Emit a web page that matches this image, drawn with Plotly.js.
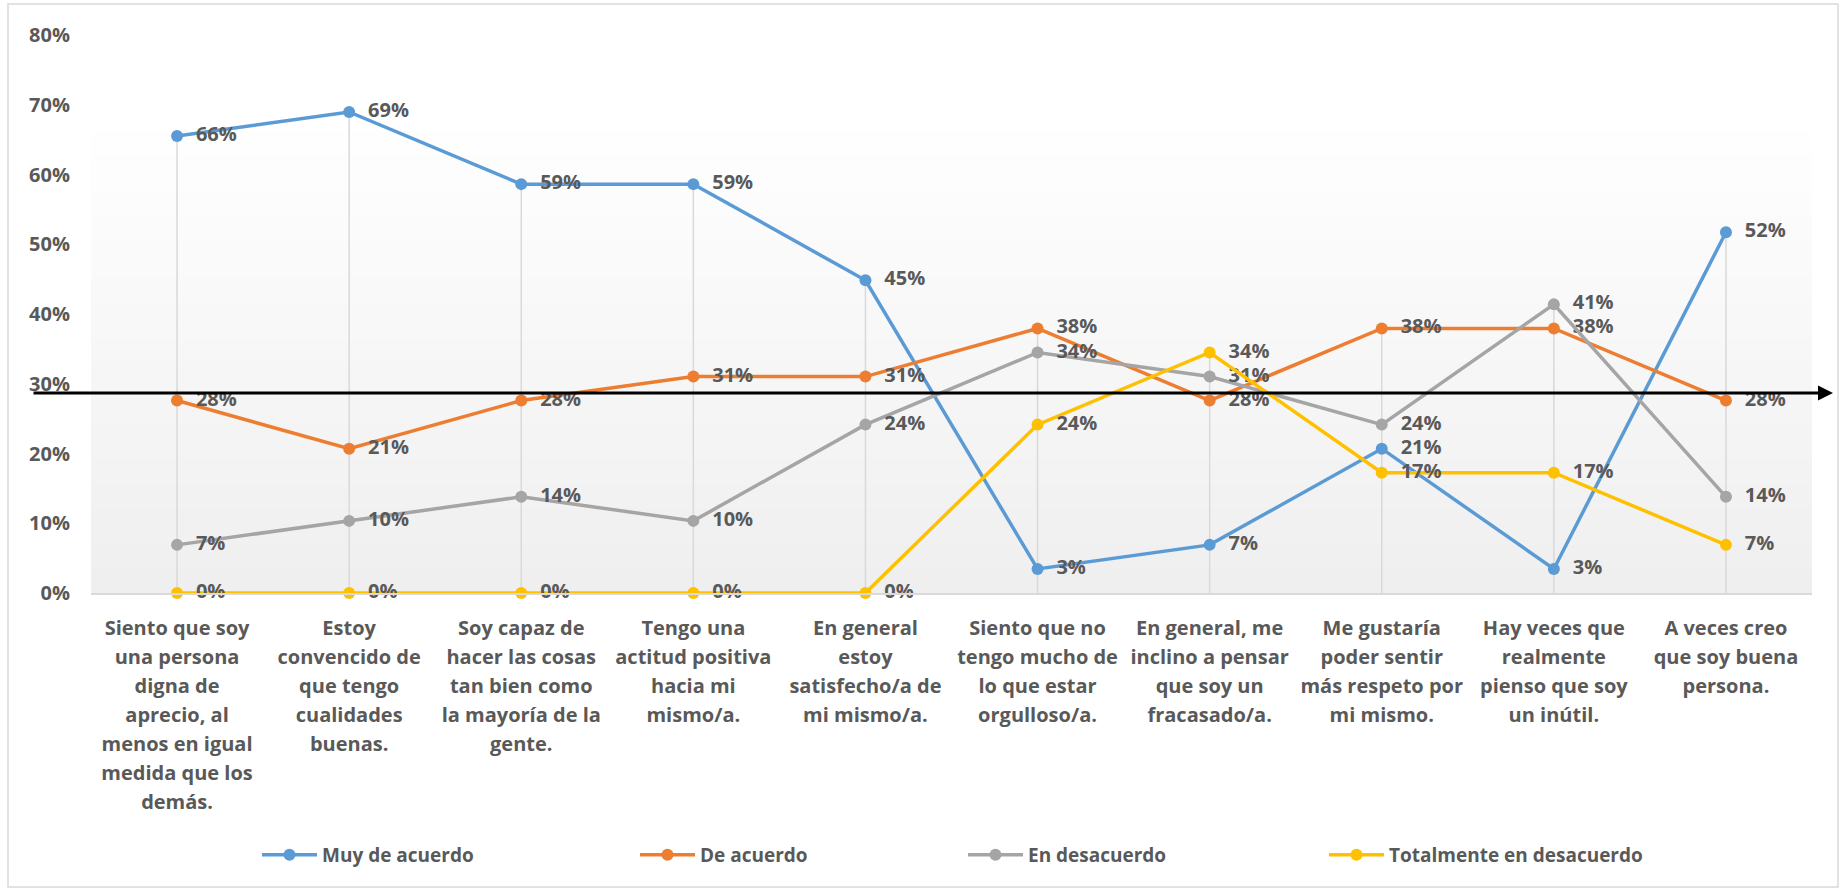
<!DOCTYPE html>
<html>
<head>
<meta charset="utf-8">
<script src="https://cdn.plot.ly/plotly-3.0.1.min.js"></script>
<style>html,body{margin:0;padding:0;background:#fff;}#chart{width:1843px;height:890px;}</style>
</head>
<body>
<div id="chart"></div>
<script>
// ---- data ----
const categories = [
  "Siento que soy<br>una persona<br>digna de<br>aprecio, al<br>menos en igual<br>medida que los<br>demás.",
  "Estoy<br>convencido de<br>que tengo<br>cualidades<br>buenas.",
  "Soy capaz de<br>hacer las cosas<br>tan bien como<br>la mayoría de la<br>gente.",
  "Tengo una<br>actitud positiva<br>hacia mi<br>mismo/a.",
  "En general<br>estoy<br>satisfecho/a de<br>mi mismo/a.",
  "Siento que no<br>tengo mucho de<br>lo que estar<br>orgulloso/a.",
  "En general, me<br>inclino a pensar<br>que soy un<br>fracasado/a.",
  "Me gustaría<br>poder sentir<br>más respeto por<br>mi mismo.",
  "Hay veces que<br>realmente<br>pienso que soy<br>un inútil.",
  "A veces creo<br>que soy buena<br>persona."
];
const seriesNames = ["Muy de acuerdo", "De acuerdo", "En desacuerdo", "Totalmente en desacuerdo"];
const muyDeAcuerdo = [0.6552, 0.6897, 0.5862, 0.5862, 0.4483, 0.0345, 0.0690, 0.2069, 0.0345, 0.5172];
const deAcuerdo = [0.2759, 0.2069, 0.2759, 0.3103, 0.3103, 0.3793, 0.2759, 0.3793, 0.3793, 0.2759];
const enDesacuerdo = [0.0690, 0.1034, 0.1379, 0.1034, 0.2414, 0.3448, 0.3103, 0.2414, 0.4138, 0.1379];
const totalmenteEnDesacuerdo = [0, 0, 0, 0, 0, 0.2414, 0.3448, 0.1724, 0.1724, 0.0690];
const yTickVals = [0, 0.1, 0.2, 0.3, 0.4, 0.5, 0.6, 0.7, 0.8];

// ---- styling ----
const colors = ["#5B9BD5", "#ED7D31", "#A5A5A5", "#FFC000"];
const textColor = "#595959";
const FONT = '"Open Sans", "DejaVu Sans", sans-serif';

const W = 1843, H = 890;
const M = {l: 91, r: 31, t: 35, b: 297};
const PW = W - M.l - M.r, PH = H - M.t - M.b;
const px2x = px => (px - M.l) / PW;
const py2y = py => (H - M.b - py) / PH;

const allSeries = [muyDeAcuerdo, deAcuerdo, enDesacuerdo, totalmenteEnDesacuerdo];

// drop lines (from highest point down to axis)
const dropX = [], dropY = [];
categories.forEach((c, i) => {
  const mx = Math.max(...allSeries.map(s => s[i]));
  dropX.push(c, c, null);
  dropY.push(0, mx, null);
});

const traces = [{
  x: dropX, y: dropY, mode: 'lines', type: 'scatter',
  line: {color: '#d9d9d9', width: 1.5},
  hoverinfo: 'skip', showlegend: false
}];

const legendIds = ['legend', 'legend2', 'legend3', 'legend4'];
const NB = '\u00a0\u00a0';
allSeries.forEach((vals, k) => {
  traces.push({
    x: categories, y: vals, name: seriesNames[k], type: 'scatter',
    mode: 'lines+markers+text',
    line: {color: colors[k], width: 3.5},
    marker: {color: colors[k], size: 12},
    text: vals.map(v => NB + Math.round(v * 100) + '%'),
    textposition: 'middle right',
    textfont: {family: FONT, size: 20, color: textColor, weight: 700},
    legend: legendIds[k],
    cliponaxis: false
  });
});

const tickText = categories.map(c => c.split('<br>').map(l => '<span style="font-size:20px">' + l + '</span>').join('<br>'));

// gradient background bands
const shapes = [];
const nb = 40, gTop = py2y(107);
const c0 = [239, 239, 239], c1 = [255, 255, 255];
for (let i = 0; i < nb; i++) {
  const t = i / (nb - 1);
  const col = c0.map((v, j) => Math.round(v + (c1[j] - v) * t));
  shapes.push({
    type: 'rect', xref: 'paper', yref: 'paper', layer: 'below',
    x0: 0, x1: 1, y0: gTop * i / nb, y1: gTop * (i + 1) / nb + 0.001,
    fillcolor: 'rgb(' + col.join(',') + ')', line: {width: 0}
  });
}
// chart border
shapes.push({
  type: 'rect', xref: 'paper', yref: 'paper', layer: 'above',
  x0: px2x(8), x1: px2x(1838), y0: py2y(887), y1: py2y(4),
  line: {color: '#d9d9d9', width: 1.5}, fillcolor: 'rgba(0,0,0,0)'
});

const legendX = [267, 645, 973, 1334];
const legendBase = {
  orientation: 'h', yanchor: 'middle', xanchor: 'left', y: py2y(855),
  font: {family: FONT, size: 19, color: textColor, weight: 700},
  bgcolor: 'rgba(0,0,0,0)', itemwidth: 55
};
const layout = {
  width: W, height: H, margin: M,
  paper_bgcolor: '#ffffff', plot_bgcolor: '#ffffff',
  showlegend: true,
  xaxis: {
    type: 'category', range: [-0.5, categories.length - 0.5],
    tickvals: categories, ticktext: tickText,
    tickfont: {family: FONT, size: 22.3, color: textColor, weight: 700},
    showgrid: false, zeroline: false, showline: true, linecolor: '#d9d9d9', linewidth: 2,
    ticks: '', ticklabelstandoff: 13, fixedrange: true
  },
  yaxis: {
    range: [0, 0.8], tickvals: yTickVals, tickformat: '.0%',
    tickfont: {family: FONT, size: 20, color: textColor, weight: 700},
    showgrid: false, zeroline: false, showline: false, ticks: '',
    ticklabelstandoff: 20, fixedrange: true
  },
  shapes: shapes,
  annotations: [{
    xref: 'paper', yref: 'paper', axref: 'paper', ayref: 'paper',
    x: px2x(1833), y: py2y(393), ax: px2x(32), ay: py2y(393),
    text: '', showarrow: true, arrowhead: 2, arrowsize: 1, arrowwidth: 3,
    arrowcolor: '#000000', standoff: 0, startstandoff: 0
  }]
};
legendIds.forEach((id, k) => {
  layout[id] = Object.assign({}, legendBase, {x: px2x(legendX[k] - 10)});
});

Plotly.newPlot('chart', traces, layout, {displayModeBar: false, staticPlot: true});
</script>
</body>
</html>
